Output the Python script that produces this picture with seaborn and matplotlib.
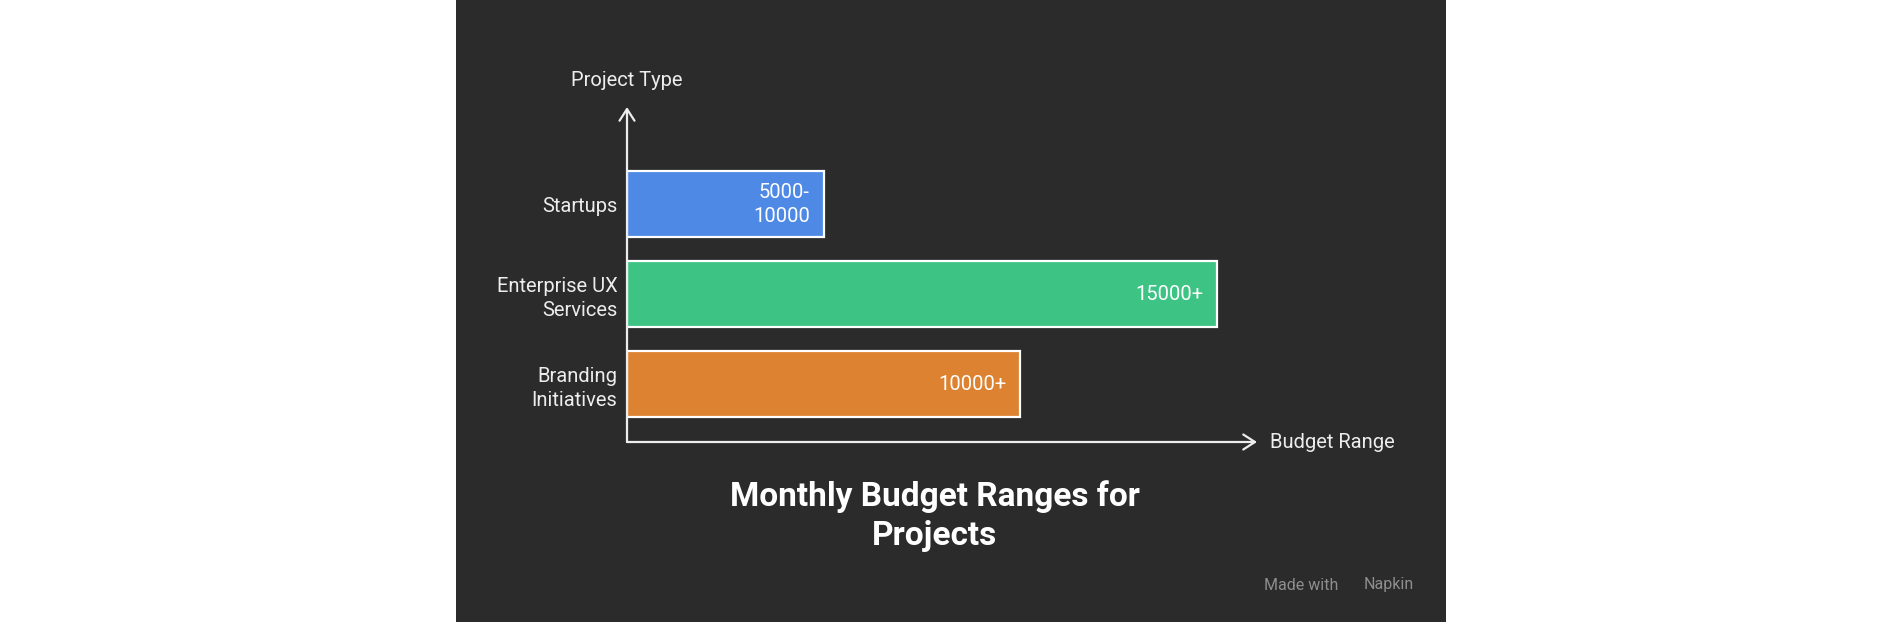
import matplotlib
matplotlib.use('Agg')
import matplotlib.pyplot as plt
import matplotlib.patches as mpatches
import seaborn as sns
import pandas as pd

# ------------------------------------------------------------
# DATA
# ------------------------------------------------------------
categories = ["Startups", "Enterprise UX Services", "Branding Initiatives"]
tick_labels = ["Startups", "Enterprise UX\nServices", "Branding\nInitiatives"]
budget_values = [5000, 15000, 10000]
bar_labels = ["5000-\n10000", "15000+", "10000+"]
bar_colors = ["#4E89E6", "#3DC484", "#DD8231"]

df = pd.DataFrame({"project": categories, "budget": budget_values})

# ------------------------------------------------------------
# STYLE
# ------------------------------------------------------------
sns.set_theme(style="white")
plt.rcParams['font.family'] = ['Roboto', 'DejaVu Sans']

BG = "#2B2B2B"
FG = "#EDEDED"
W, H = 1903, 622

fig = plt.figure(figsize=(W / 100, H / 100), dpi=100)
fig.patch.set_facecolor("white")

# dark panel (behind the axes)
fig.patches.append(mpatches.Rectangle((456 / W, 0), (1446 - 456) / W, 1,
                                      transform=fig.transFigure,
                                      facecolor=BG, edgecolor="none", zorder=-10))

ax = fig.add_axes([627 / W, 1 - 442 / H, (1257 - 627) / W, (442 - 107) / H])
ax.set_facecolor("none")
ax.set_zorder(5)

sns.barplot(data=df, x="budget", y="project", hue="project",
            palette=bar_colors, saturation=1, orient="h", width=0.73,
            edgecolor="white", linewidth=1.6, legend=False, ax=ax)

ax.set_xlim(0, 16020)
ax.set_ylim(2.64, -1.08)

for s in ax.spines.values():
    s.set_visible(False)
ax.set_xticks([])
ax.set_yticks(range(len(tick_labels)))
ax.set_yticklabels(tick_labels, color=FG, fontsize=14.5, linespacing=1.3)
ax.tick_params(axis="y", length=0, pad=7)
ax.set_xlabel("")
ax.set_ylabel("")

# axis arrows
arrow_kw = dict(arrowstyle="->,head_length=0.7,head_width=0.45",
                color=FG, lw=1.6, shrinkA=0, shrinkB=0)
ax.annotate("", xy=(0, 1), xytext=(0, 0), xycoords="axes fraction",
            textcoords="axes fraction", arrowprops=arrow_kw, zorder=5)
ax.annotate("", xy=(1, 0), xytext=(0, 0), xycoords="axes fraction",
            textcoords="axes fraction", arrowprops=arrow_kw, zorder=5)

ax.annotate("Project Type", xy=(0, 1), xycoords="axes fraction",
            xytext=(0, 19), textcoords="offset points",
            ha="center", va="center", color=FG, fontsize=14.5)
ax.annotate("Budget Range", xy=(1, 0), xycoords="axes fraction",
            xytext=(9, 0), textcoords="offset points",
            ha="left", va="center", color=FG, fontsize=14.5)

# value labels inside bars
for i, (val, lab) in enumerate(zip(budget_values, bar_labels)):
    ax.annotate(lab, xy=(val, i), xytext=(-10, 0), textcoords="offset points",
                ha="right", va="center", color="white", fontsize=14.5,
                linespacing=1.3)

# title
fig.text(935 / W, 1 - 516 / H, "Monthly Budget Ranges for\nProjects",
         ha="center", va="center", color="white", fontsize=24,
         fontweight="bold", linespacing=1.27)

# footer
fig.text(1338 / W, 1 - 585 / H, "Made with", ha="right", va="center",
         color="#8E8E8E", fontsize=11.5)
fig.text(1414 / W, 1 - 585 / H, "Napkin", ha="right", va="center",
         color="#8E8E8E", fontsize=11.5)

fig.savefig("out.png", dpi=100, facecolor=fig.get_facecolor())
